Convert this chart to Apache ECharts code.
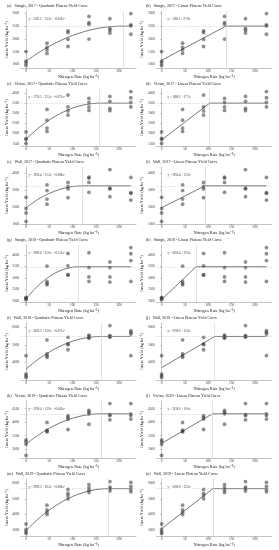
<!DOCTYPE html>
<html><head><meta charset="utf-8">
<script src="https://cdn.jsdelivr.net/npm/echarts@6/dist/echarts.min.js"></script>
<style>html,body{margin:0;padding:0;background:#fff}#c{width:279px;height:550px}</style>
</head><body><div id="c"></div>
<script>
// Nitrogen rates (kg/ha) and axis ticks
const nRates = [0, 45, 90, 135, 180, 225];
const xTicks = [0, 50, 100, 150, 200];

// Observed yields: four replicates per nitrogen rate
const sturgis2017 = [[1500,1130,1065,960],[1830,1670,1565,1430],[2315,2250,1980,1700],[2880,2640,2570,1990],[2790,2410,2340,2230],[2990,2545,2505,2180]];
const vivian2017  = [[2080,1760,1700,1510],[3190,2660,2270,2100],[3900,3310,3110,2910],[3730,3530,3310,3140],[3830,3590,3240,3125],[4070,3765,3530,3310]];
const wall2017    = [[2560,1900,1640,1140],[3300,2960,2460,2160],[3440,3200,3060,2540],[3760,3700,3440,2860],[4200,3100,3060,2600],[3740,2840,2800,2400]];
const sturgis2018 = [[2150,2120,2090,2060],[3515,2850,2760,2700],[4075,3530,3150,3120],[4105,3455,3045,2850],[3700,3455,3045,2820],[4330,4060,3760,2850]];
const wall2018    = [[4380,3330,3240,3140],[5280,4480,4380,4290],[5430,5050,5010,4720],[5560,5490,5430,5370],[6100,5520,5490,5430],[5810,5710,5620,4380]];
const vivian2019  = [[3345,3280,3180,2770],[3990,3705,3670,3640],[4245,4180,4115,3730],[4435,4370,4310,3925],[4690,4280,4245,4090],[4690,4310,4245,4115]];
const wall2019    = [[3400,3050,2900,2800],[4600,4300,4150,4000],[5600,5350,5200,5000],[5900,5700,5550,5400],[6100,5750,5650,5500],[6050,5800,5600,5450]];

// Y-axis tick labels
const ticksSturgis2017 = [1000,1500,2000,2500,3000];
const ticksVivian2017  = [1500,2000,2500,3000,3500,4000];
const ticksWall2017    = [1000,2000,3000,4000];
const ticksSturgis2018 = [2000,2500,3000,3500,4000];
const ticksWall2018    = [4000,5000,6000];
const ticksVivian2019  = [3000,3500,4000,4500];
const ticksWall2019    = [3000,4000,5000,6000];

// Quadratic plateau curves (x, yield)
const quadX_S17 = [0,25,50,75,100,125,150,175,208,225];
const quadY_S17 = [1130,1440,1711,1942,2133,2285,2397,2469,2500,2500];
const quadX_V17 = [0,25,50,75,100,125,150,158,225];
const quadY_V17 = [1720,2238,2667,3007,3258,3420,3493,3500,3500];
const quadX_W17 = [0,25,50,75,100,121,225];
const quadY_W17 = [1950,2428,2795,3052,3200,3240,3240];
const quadX_S18 = [0,25,50,75,100,112,225];
const quadY_S18 = [2090,2645,3061,3337,3474,3490,3490];
const quadX_W18 = [0,25,50,75,100,125,150,162,225];
const quadY_W18 = [3620,4151,4592,4946,5210,5386,5472,5480,5480];
const quadX_V19 = [0,25,50,75,100,125,150,161,225];
const quadY_V19 = [3190,3511,3777,3990,4149,4254,4305,4310,4310];
const quadX_W19 = [0,25,50,75,100,125,150,176,225];
const quadY_W19 = [2990,3691,4285,4772,5152,5424,5590,5650,5650];

// Linear plateau lines (x, yield)
const linX_S17 = [0,138,225];  const linY_S17 = [1160,2500,2500];
const linX_V17 = [0,103,225];  const linY_V17 = [1680,3500,3500];
const linX_W17 = [0,93,225];   const linY_W17 = [1950,3240,3240];
const linX_S18 = [0,74,225];   const linY_S18 = [2060,3490,3490];
const linX_W18 = [0,114,225];  const linY_W18 = [3700,5480,5480];
const linX_V19 = [0,109,225];  const linY_V19 = [3218,4310,4310];
const linX_W19 = [0,110,225];  const linY_W19 = [3100,5650,5650];

const panels = [
  {t:'(a)   Sturgis, 2017 - Quadratic Plateau Yield Curve', d:sturgis2017, ticks:ticksSturgis2017, cx:quadX_S17, cy:quadY_S17, eq:'y = 1130.5 + 13.2x + -0.032x²'},
  {t:'(b)   Sturgis, 2017 - Linear Plateau Yield Curve',    d:sturgis2017, ticks:ticksSturgis2017, cx:linX_S17,  cy:linY_S17,  eq:'y = 1160.5 + 9.70x'},
  {t:'(c)   Vivian, 2017 - Quadratic Plateau Yield Curve',  d:vivian2017,  ticks:ticksVivian2017,  cx:quadX_V17, cy:quadY_V17, eq:'y = 1720.5 + 22.5x + -0.071x²'},
  {t:'(d)   Vivian, 2017 - Linear Plateau Yield Curve',     d:vivian2017,  ticks:ticksVivian2017,  cx:linX_V17,  cy:linY_V17,  eq:'y = 1680.2 + 17.7x'},
  {t:'(e)   Wall, 2017 - Quadratic Plateau Yield Curve',    d:wall2017,    ticks:ticksWall2017,    cx:quadX_W17, cy:quadY_W17, eq:'y = 1950.4 + 21.3x + -0.088x²'},
  {t:'(f)   Wall, 2017 - Linear Plateau Yield Curve',       d:wall2017,    ticks:ticksWall2017,    cx:linX_W17,  cy:linY_W17,  eq:'y = 1950.4 + 13.9x'},
  {t:'(g)   Sturgis, 2018 - Quadratic Plateau Yield Curve', d:sturgis2018, ticks:ticksSturgis2018, cx:quadX_S18, cy:quadY_S18, eq:'y = 2090.6 + 25.0x + -0.112x²'},
  {t:'(h)   Sturgis, 2018 - Linear Plateau Yield Curve',    d:sturgis2018, ticks:ticksSturgis2018, cx:linX_S18,  cy:linY_S18,  eq:'y = 2059.4 + 19.3x'},
  {t:'(i)   Wall, 2018 - Quadratic Plateau Yield Curve',    d:wall2018,    ticks:ticksWall2018,    cx:quadX_W18, cy:quadY_W18, eq:'y = 3620.5 + 23.0x + -0.071x²'},
  {t:'(j)   Wall, 2018 - Linear Plateau Yield Curve',       d:wall2018,    ticks:ticksWall2018,    cx:linX_W18,  cy:linY_W18,  eq:'y = 3700.0 + 15.6x'},
  {t:'(k)   Vivian, 2019 - Quadratic Plateau Yield Curve',  d:vivian2019,  ticks:ticksVivian2019,  cx:quadX_V19, cy:quadY_V19, eq:'y = 3190.4 + 13.9x + -0.043x²'},
  {t:'(l)   Vivian, 2019 - Linear Plateau Yield Curve',     d:vivian2019,  ticks:ticksVivian2019,  cx:linX_V19,  cy:linY_V19,  eq:'y = 3218.0 + 10.0x'},
  {t:'(m)   Wall, 2019 - Quadratic Plateau Yield Curve',    d:wall2019,    ticks:ticksWall2019,    cx:quadX_W19, cy:quadY_W19, eq:'y = 2990.3 + 30.2x + -0.086x²'},
  {t:'(n)   Wall, 2019 - Linear Plateau Yield Curve',       d:wall2019,    ticks:ticksWall2019,    cx:linX_W19,  cy:linY_W19,  eq:'y = 3100.0 + 23.2x'}
];

const SERIF = '"Liberation Serif", "DejaVu Serif", serif';
const ROW_H = 78, COL_W = 139;
const grids = [], xAxes = [], yAxes = [], series = [], titles = [];
const plain = v => String(v);

panels.forEach((p, i) => {
  const col = i % 2, row = Math.floor(i / 2);
  const gLeft = col === 0 ? 20.8 : 156.4;
  const gTop = row * ROW_H + 11;
  grids.push({left: gLeft, top: gTop, width: 115.3, height: 57});

  const pts = [];
  p.d.forEach((reps, k) => reps.forEach(v => pts.push([nRates[k], v])));
  const allY = pts.map(q => q[1]).concat(p.cy);
  const lo = Math.min(...allY), hi = Math.max(...allY);
  const pad = (hi - lo) * 0.05;

  xAxes.push({
    gridIndex: i, type: 'value', min: -11.25, max: 236.25,
    name: 'Nitrogen Rate (kg ha⁻¹)', nameLocation: 'middle', nameGap: 6.5,
    nameTextStyle: {fontFamily: SERIF, fontSize: 4.3, color: '#222'},
    axisLine: {show: true, lineStyle: {color: '#888', width: 0.5}},
    axisTick: {show: true, length: 1.5, lineStyle: {color: '#888', width: 0.5}, customValues: xTicks},
    axisLabel: {fontFamily: SERIF, fontSize: 3.5, color: '#444', margin: 1.5, customValues: xTicks, formatter: plain},
    splitLine: {show: false}
  });
  yAxes.push({
    gridIndex: i, type: 'value', min: lo - pad, max: hi + pad,
    name: 'Grain Yield (kg ha⁻¹)', nameLocation: 'middle', nameGap: 11.5, nameRotate: 90,
    nameTextStyle: {fontFamily: SERIF, fontSize: 4.3, color: '#222'},
    axisLine: {show: true, lineStyle: {color: '#888', width: 0.5}},
    axisTick: {show: true, length: 1.5, lineStyle: {color: '#888', width: 0.5}, customValues: p.ticks},
    axisLabel: {fontFamily: SERIF, fontSize: 3.5, color: '#444', margin: 1.5, customValues: p.ticks, formatter: plain},
    splitLine: {show: false}
  });

  const join = p.cx[p.cx.length - 2];
  const plateau = p.cy[p.cy.length - 1];

  series.push({
    type: 'line', xAxisIndex: i, yAxisIndex: i, silent: true,
    data: p.cx.map((x, k) => [x, p.cy[k]]),
    smooth: p.cx.length > 3 ? 0.3 : false, showSymbol: false, z: 3,
    lineStyle: {color: '#555', width: 0.8},
    markLine: {
      silent: true, symbol: 'none', label: {show: false},
      data: [
        {yAxis: plateau, lineStyle: {color: '#bbb', width: 0.5, type: [1.5, 1.5]}},
        {xAxis: join, lineStyle: {color: '#ccc', width: 0.6, type: 'solid'}}
      ]
    }
  });
  series.push({
    type: 'scatter', xAxisIndex: i, yAxisIndex: i, data: pts, z: 4,
    symbolSize: 3.8, itemStyle: {color: 'rgba(60,60,60,0.72)'}
  });

  titles.push({
    text: p.t, left: col * COL_W + 7, top: row * ROW_H + 3.5, padding: 0,
    textStyle: {fontFamily: SERIF, fontSize: 4, fontWeight: 'normal', color: '#222'}
  });
  titles.push({
    text: p.eq, left: col * COL_W + 28, top: row * ROW_H + 16.8, padding: 0.5,
    backgroundColor: '#fff',
    textStyle: {fontFamily: SERIF, fontSize: 3, fontWeight: 'normal', color: '#333'}
  });
});

const chart = echarts.init(document.getElementById('c'), null, {renderer: 'canvas'});
chart.setOption({
  animation: false, backgroundColor: '#fff',
  title: titles, grid: grids, xAxis: xAxes, yAxis: yAxes, series: series
});
</script>
</body></html>
